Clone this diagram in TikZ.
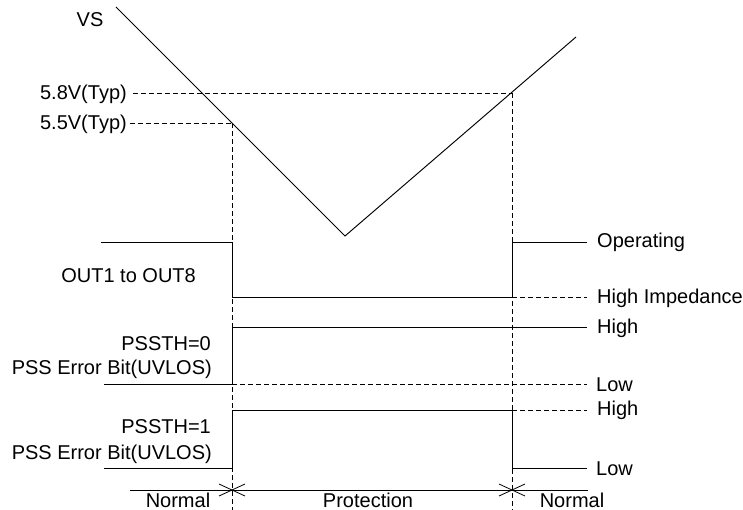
\documentclass[tikz,border=0pt]{standalone}
\usepackage{fontspec}
\setmainfont{Liberation Sans}
\begin{document}
\begin{tikzpicture}[x=1pt,y=-1pt,
  sig/.style={line width=0.95pt},
  dsh/.style={line width=0.85pt, dash pattern=on 5pt off 3pt},
  lbl/.style={font=\fontsize{20}{24}\selectfont, inner sep=0pt, anchor=base},
  lbll/.style={lbl, anchor=base east},
  lblr/.style={lbl, anchor=base west}]
\useasboundingbox (0,0) rectangle (743,510);
% key coordinates
\coordinate (vtop) at (116,7);
\coordinate (vbot) at (345,236);
\coordinate (vend) at (576,37);
\coordinate (t1) at (232,123);
\coordinate (t2) at (512,93);
\coordinate (t1b) at (232,510);
\coordinate (t2b) at (512,510);
% VS curve
\draw[sig] (vtop) -- (vbot) -- (vend);
\node[lbl] (vs) at (90,27) {VS};
% thresholds
\node[lbll] (l58) at (127,100) {5.8V(Typ)};
\node[lbll] (l55) at (127,130) {5.5V(Typ)};
\coordinate (d58) at (133,93);
\coordinate (d55) at (130,123);
\draw[dsh] (d58) -- (t2);
\draw[dsh] (d55) -- (t1);
\draw[dsh] (t1) -- (t1b);
\draw[dsh] (t2) -- (t2b);
% OUT1 to OUT8
\coordinate (o0) at (101,242);
\coordinate (o1) at (232,242);
\coordinate (o2) at (232,297);
\coordinate (o3) at (512,297);
\coordinate (o4) at (512,242);
\coordinate (o5) at (587,242);
\coordinate (o6) at (587,297);
\draw[sig] (o0) -- (o1) -- (o2) -- (o3) -- (o4) -- (o5);
\draw[dsh] (o3) -- (o6);
\node[lbll] (out) at (196,283) {OUT1 to OUT8};
\node[lblr] (op) at (597,248) {Operating};
\node[lblr] (hz) at (597,303) {High Impedance};
% PSSTH=0
\coordinate (a0) at (104,384);
\coordinate (a1) at (232,384);
\coordinate (a2) at (232,327);
\coordinate (a3) at (587,327);
\coordinate (a4) at (587,384);
\draw[sig] (a0) -- (a1) -- (a2) -- (a3);
\draw[dsh] (a1) -- (a4);
\node[lbll] (p0) at (211,350) {PSSTH=0};
\node[lbll] (e0) at (212,374) {PSS Error Bit(UVLOS)};
\node[lblr] (h0) at (597,333) {High};
\node[lblr] (lo0) at (596,391) {Low};
% PSSTH=1
\coordinate (b0) at (104,468);
\coordinate (b1) at (232,468);
\coordinate (b2) at (232,410);
\coordinate (b3) at (512,410);
\coordinate (b4) at (512,468);
\coordinate (b5) at (587,468);
\coordinate (b6) at (587,410);
\draw[sig] (b0) -- (b1) -- (b2) -- (b3) -- (b4) -- (b5);
\draw[dsh] (b3) -- (b6);
\node[lbll] (p1) at (211,433) {PSSTH=1};
\node[lbll] (e1) at (212,459) {PSS Error Bit(UVLOS)};
\node[lblr] (h1) at (597,415) {High};
\node[lblr] (lo1) at (596,475) {Low};
% bottom phases
\coordinate (m0) at (130,490);
\coordinate (m1) at (588,490);
\draw[line width=0.9pt] (m0) -- (m1);
\coordinate (x1) at (232,490);
\coordinate (x2) at (512,490);
\foreach \c in {x1,x2}{
  \draw[line width=0.8pt] ([shift={(-13,-6)}]\c) -- ([shift={(13,6)}]\c);
  \draw[line width=0.8pt] ([shift={(-13,6)}]\c) -- ([shift={(13,-6)}]\c);
}
\node[lbl] (n1) at (178,507) {Normal};
\node[lbl] (pr) at (368,507) {Protection};
\node[lbl] (n2) at (572,507) {Normal};
\end{tikzpicture}
\end{document}
